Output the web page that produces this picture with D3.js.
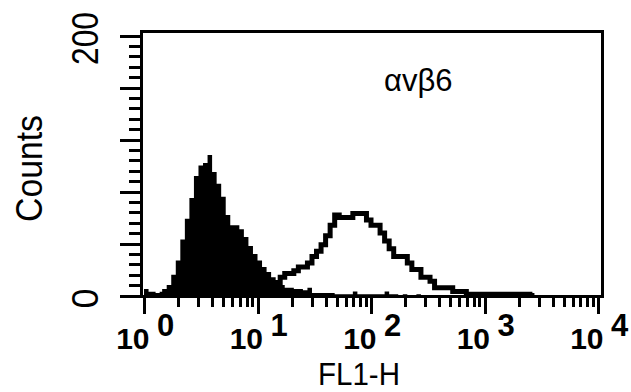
<!DOCTYPE html>
<html>
<head>
<meta charset="utf-8">
<script src="https://cdn.jsdelivr.net/npm/d3@7"></script>
<style>
  body { margin: 0; background: #fff; }
  svg text { font-family: "Liberation Sans", Arial, Helvetica, sans-serif; fill: #000; }
</style>
</head>
<body>
<div id="chart"></div>
<script>
// histogram channels: 25 bins per decade, 10^0 .. 10^4
const binsPerDecade = 25;
const decades = [1, 10, 100, 1000, 10000];
const decadeExponents = ["0", "1", "2", "3", "4"];
const countTicksLabelled = [0, 200];

// isotype control (filled)
const controlCounts = [
  5, 2, 2, 2, 5, 8, 16, 27, 43, 59,
  75, 92, 100, 102, 108, 95, 86, 76, 62, 54,
  54, 51, 45, 38, 32, 27, 22, 18, 14, 11,
  8, 6, 6, 5, 5, 4, 6, 2, 2, 2,
  2, 2, 1, 1, 1, 1, 3, 1, 1, 1,
  1, 1, 1, 3, 1, 1, 0, 1, 0, 0,
  1, 0, 0, 0, 0, 0, 0, 0, 0, 0,
  0, 0, 0, 0, 0, 0, 0, 0, 0, 0,
  0, 0, 0, 0, 0, 0, 0, 0, 0, 0,
  0, 0, 0, 0, 0, 0, 0, 0, 0, 0
];

// avb6 stained (open outline)
const stainedCounts = [
  0, 1, 0, 0, 1, 0, 1, 0, 1, 1,
  1, 1, 1, 2, 1, 2, 2, 2, 3, 2,
  3, 3, 4, 4, 5, 5, 6, 6, 8, 10,
  14, 17, 17, 19, 22, 22, 25, 30, 34, 39,
  46, 54, 62, 60, 60, 60, 63, 63, 63, 58,
  54, 54, 48, 42, 36, 30, 30, 30, 25, 20,
  20, 14, 14, 11, 6, 6, 6, 6, 3, 3,
  3, 1, 1, 1, 1, 1, 1, 1, 1, 1,
  1, 1, 1, 1, 1, 0, 0, 0, 0, 0,
  0, 0, 0, 0, 0, 0, 0, 0, 0, 0
];

const width = 631, height = 392;
const svg = d3.select("#chart").append("svg")
  .attr("width", width)
  .attr("height", height);

const x = d3.scaleLog().domain([1, 10000]).range([144, 598]);
const y = d3.scaleLinear().domain([0, 200]).range([295.5, 35.5]);

const edge = i => Math.pow(10, i / binsPerDecade);

function stepPoints(counts) {
  const pts = counts.map((c, i) => [edge(i), c]);
  pts.push([edge(counts.length), counts[counts.length - 1]]);
  return pts;
}

// filled control histogram
const area = d3.area()
  .curve(d3.curveStepAfter)
  .x(d => x(d[0]))
  .y0(y(0))
  .y1(d => y(d[1]));

svg.append("path")
  .datum(stepPoints(controlCounts))
  .attr("d", area)
  .attr("fill", "#000");

// open stained histogram, stops where the counts run out
let last = stainedCounts.length - 1;
while (last > 0 && stainedCounts[last] === 0) last--;
const stainedPts = stepPoints(stainedCounts.slice(0, last + 2));

svg.append("path")
  .datum(stainedPts)
  .attr("d", d3.line().curve(d3.curveStepAfter).x(d => x(d[0])).y(d => y(d[1])))
  .attr("fill", "none")
  .attr("stroke", "#000")
  .attr("stroke-width", 5)
  .attr("stroke-linejoin", "miter");

// y ticks: minor every 8, major every 40
svg.append("g")
  .attr("transform", "translate(140,0)")
  .call(d3.axisLeft(y).tickValues(d3.range(0, 201, 8)).tickSize(11).tickFormat(""))
  .call(g => g.select(".domain").remove());
svg.append("g")
  .attr("transform", "translate(140,0)")
  .call(d3.axisLeft(y).tickValues(d3.range(0, 201, 40)).tickSize(20).tickFormat(""))
  .call(g => g.select(".domain").remove());

// x ticks: log minor + decades
const minor = x.ticks().filter(v => !decades.includes(v));
svg.append("g")
  .attr("transform", "translate(0,298)")
  .call(d3.axisBottom(x).tickValues(minor).tickSize(9).tickFormat(""))
  .call(g => g.select(".domain").remove());
svg.append("g")
  .attr("transform", "translate(0,298)")
  .call(d3.axisBottom(x).tickValues(decades).tickSize(16).tickFormat(""))
  .call(g => g.select(".domain").remove());

svg.selectAll(".tick line")
  .attr("stroke", "#000")
  .attr("stroke-width", 3)
  .attr("shape-rendering", "crispEdges");

// frame
svg.append("rect")
  .attr("x", 141.5).attr("y", 31.5)
  .attr("width", 461).attr("height", 265)
  .attr("fill", "none")
  .attr("stroke", "#000")
  .attr("stroke-width", 3)
  .attr("shape-rendering", "crispEdges");

// decade labels: 10 with raised exponent
const lab = svg.append("g").attr("font-weight", "bold");
decades.forEach((v, i) => {
  lab.append("text")
    .attr("x", x(v) + 5.5).attr("y", 349)
    .attr("text-anchor", "end")
    .attr("font-size", 30)
    .text("10");
  lab.append("text")
    .attr("x", x(v) + 13).attr("y", 335.5)
    .attr("font-size", 31)
    .text(decadeExponents[i]);
});

// y labels
countTicksLabelled.forEach(v => {
  svg.append("text")
    .attr("transform", `translate(98,${y(v) + 3}) rotate(-90)`)
    .attr("text-anchor", "middle")
    .attr("font-size", 36)
    .attr("textLength", v === 0 ? null : 53)
    .attr("lengthAdjust", "spacingAndGlyphs")
    .text(v);
});

svg.append("text")
  .attr("transform", "translate(41.5,168.5) rotate(-90)")
  .attr("text-anchor", "middle")
  .attr("font-size", 36)
  .attr("textLength", 107)
  .attr("lengthAdjust", "spacingAndGlyphs")
  .text("Counts");

svg.append("text")
  .attr("x", 359).attr("y", 384.5)
  .attr("text-anchor", "middle")
  .attr("font-size", 32)
  .attr("textLength", 82)
  .attr("lengthAdjust", "spacingAndGlyphs")
  .text("FL1-H");

svg.append("text")
  .attr("x", 384).attr("y", 91)
  .attr("font-size", 31)
  .text("αvβ6");
</script>
</body>
</html>
